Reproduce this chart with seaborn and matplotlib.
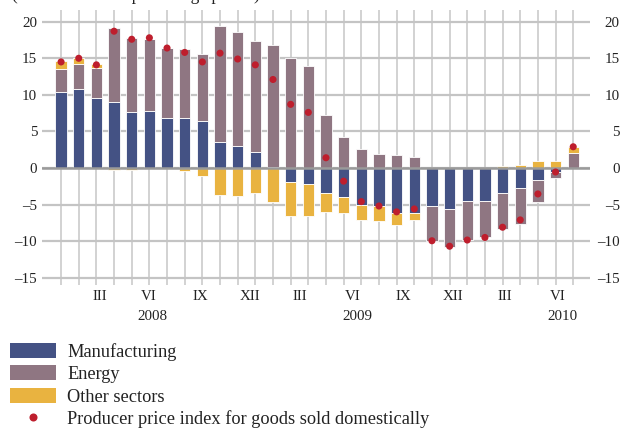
import numpy as np
import pandas as pd
import matplotlib
matplotlib.use("Agg")
import matplotlib.pyplot as plt
import seaborn as sns
from matplotlib.patches import Patch
from matplotlib.lines import Line2D

# ---------------- data ----------------
months = [f"{y}-{m:02d}" for y in (2008, 2009) for m in range(1, 13)] + \
         [f"2010-{m:02d}" for m in range(1, 7)]
manufacturing = [10.4, 10.8, 9.6, 9.0, 7.7, 7.8, 6.8, 6.8, 6.4, 3.6, 3.0, 2.2,
                 0.1, -1.9, -2.2, -3.4, -4.0, -5.1, -5.2, -6.1, -6.1, -5.2, -5.6, -4.5,
                 -4.5, -3.4, -2.7, -1.7, -0.6, 0.0]
energy = [3.1, 3.4, 4.1, 10.2, 10.1, 9.9, 9.6, 9.5, 9.2, 15.8, 15.6, 15.2,
          16.7, 15.1, 14.0, 7.3, 4.2, 2.6, 1.9, 1.8, 1.5, -4.8, -5.2, -5.4,
          -5.0, -4.9, -4.9, -2.9, -0.8, 2.05]
other = [1.1, 0.9, 0.5, -0.3, -0.3, 0.0, 0.0, -0.4, -1.1, -3.7, -3.8, -3.4,
         -4.6, -4.6, -4.3, -2.6, -2.1, -2.0, -2.0, -1.65, -1.0, 0.0, 0.0, 0.0,
         0.0, 0.3, 0.4, 0.95, 0.95, 0.85]
ppi = [14.5, 15.0, 14.1, 18.7, 17.6, 17.8, 16.4, 15.8, 14.5, 15.7, 14.9, 14.1,
       12.1, 8.7, 7.6, 1.4, -1.8, -4.6, -5.2, -6.0, -5.6, -9.95, -10.7, -9.85,
       -9.5, -8.1, -7.1, -3.55, -0.55, 2.9]
quarter_labels = ["III", "VI", "IX", "XII", "III", "VI", "IX", "XII", "III", "VI"]
year_labels = ["2008", "2009", "2010"]
legend_labels = ["Manufacturing", "Energy", "Other sectors",
                 "Producer price index for goods sold domestically"]

# label placement (x in bar-index units)
quarter_pos = [2.2, 4.95, 7.9, 10.7, 13.5, 16.5, 19.4, 22.2, 25.1, 28.1]
year_pos = [5.2, 16.8, 28.4]

C_MAN = "#445284"
C_ENE = "#8f7682"
C_OTH = "#e9b340"
C_DOT = "#be1e2d"

# ---------------- stacking ----------------
m = np.array(manufacturing)
e = np.array(energy)
o = np.array(other)
e_bottom = np.where(e >= 0, np.maximum(m, 0), np.minimum(m, 0))
pos_base = np.maximum(m, 0) + np.maximum(e, 0)
neg_base = np.minimum(m, 0) + np.minimum(e, 0)
o_bottom = np.where(o >= 0, pos_base, neg_base)

df = pd.DataFrame({"month": months, "pos": np.arange(len(months)),
                   "manufacturing": m, "energy": e, "other": o, "ppi": ppi})

sns.set_theme(style="white")
plt.rcParams['font.family'] = ['Liberation Serif', 'DejaVu Serif']

W, H = 621, 429
fig = plt.figure(figsize=(W / 100, H / 100), dpi=100)
ax = fig.add_axes([42 / W, 1 - 285 / H, (590 - 42) / W, (285 - 10) / H])

bar_kw = dict(x="pos", errorbar=None, width=0.64, saturation=1, ax=ax,
              edgecolor="white", linewidth=0.6, zorder=2)
sns.barplot(data=df, y="manufacturing", color=C_MAN, **bar_kw)
sns.barplot(data=df, y="energy", color=C_ENE, bottom=e_bottom, **bar_kw)
sns.barplot(data=df, y="other", color=C_OTH, bottom=o_bottom, **bar_kw)
sns.scatterplot(data=df, x="pos", y="ppi", color=C_DOT, s=26, edgecolor="none",
                ax=ax, zorder=4, legend=False)

ax.axhline(0, color="#9a9a9a", lw=1.8, zorder=3)

ylim = (-16.0, 21.6)
ax.set_ylim(*ylim)
ax.set_xlim(-1.08, 29.95)
yt = list(range(-15, 25, 5))
ylab = [f"\u2013{abs(v)}" if v < 0 else str(v) for v in yt]
ax.set_yticks(yt)
ax.set_yticklabels(ylab)
ax.set_xticks(np.arange(len(months)))
ax.set_xticklabels([])
ax.grid(True, axis="y", color="#c4c4c4", lw=1.6)
ax.grid(True, axis="x", color="#cfcfcf", lw=1.3)
ax.set_axisbelow(True)
for s in ax.spines.values():
    s.set_visible(False)
ax.set_xlabel("")
ax.set_ylabel("")
ax.tick_params(axis="both", length=0)
ax.tick_params(axis="y", pad=3.5, labelsize=10.8, colors="#222222")

ax2 = ax.twinx()
ax2.set_ylim(*ylim)
ax2.set_yticks(yt)
ax2.set_yticklabels(ylab)
ax2.tick_params(axis="y", length=0, pad=21.5, labelsize=10.8, colors="#222222")
for t in ax2.get_yticklabels():
    t.set_horizontalalignment("right")
for s in ax2.spines.values():
    s.set_visible(False)
ax2.grid(False)

tr = ax.get_xaxis_transform()
for p, lab in zip(quarter_pos, quarter_labels):
    ax.text(p, -12 / 275, lab, transform=tr, ha="center", va="center",
            fontsize=10.8, color="#222222")
for p, lab in zip(year_pos, year_labels):
    ax.text(p, -32 / 275, lab, transform=tr, ha="center", va="center",
            fontsize=10.8, color="#222222")

fig.text(12 / W, 1.0, "(contributions in percentage points)", ha="left",
         va="baseline", fontsize=12.5, color="#222222")

handles = [Patch(facecolor=C_MAN, edgecolor="none"),
           Patch(facecolor=C_ENE, edgecolor="none"),
           Patch(facecolor=C_OTH, edgecolor="none"),
           Line2D([], [], ls="none", marker="o", color=C_DOT, markersize=5.8,
                  markeredgewidth=0)]
fig.legend(handles, legend_labels, loc="upper left",
           bbox_to_anchor=(10 / W, 1 - 343 / H), frameon=False, fontsize=13.2,
           handlelength=2.51, handleheight=0.87, handletextpad=0.6,
           labelspacing=0.25, borderpad=0, borderaxespad=0,
           labelcolor="#222222")

fig.savefig("out.png", dpi=100)
